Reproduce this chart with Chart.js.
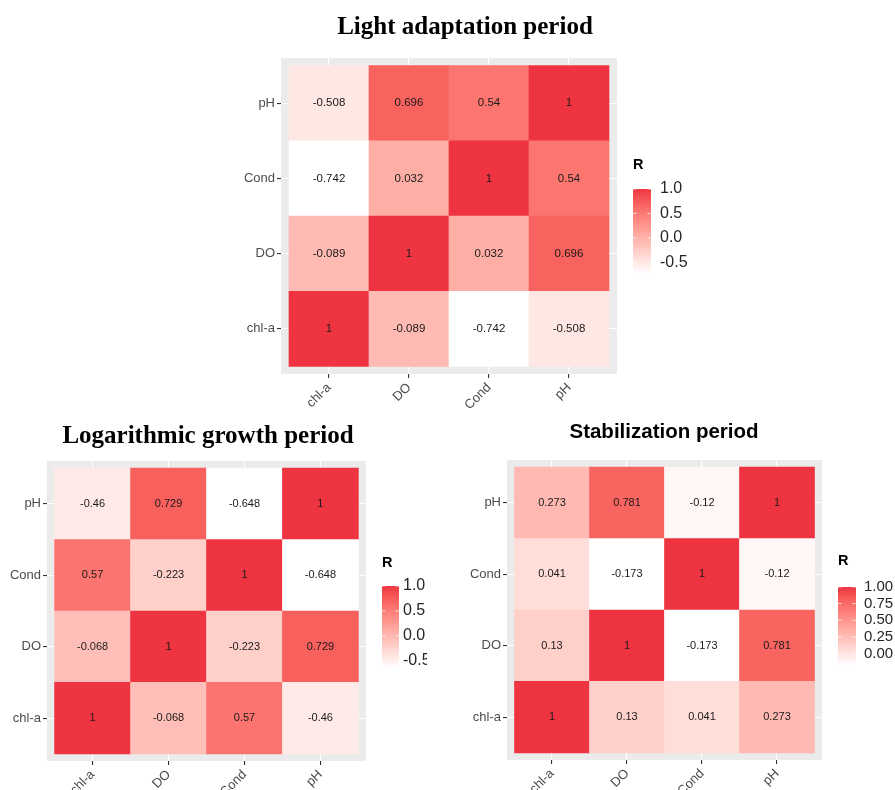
<!DOCTYPE html>
<html>
<head>
<meta charset="utf-8">
<script src="https://cdn.jsdelivr.net/npm/chart.js@4.4.1/dist/chart.umd.min.js"></script>
<style>
  html, body { margin: 0; padding: 0; background: #ffffff; width: 895px; height: 790px; overflow: hidden; }
  canvas { position: absolute; }
</style>
</head>
<body>
<canvas id="light" style="left:200px; top:0px;" width="530" height="410"></canvas>
<canvas id="log" style="left:0px; top:400px;" width="427" height="390"></canvas>
<canvas id="stab" style="left:460px; top:400px;" width="435" height="390"></canvas>
<script>
// Variables shown on both axes (bottom-to-top on y, left-to-right on x)
const variables = ['chl-a', 'DO', 'Cond', 'pH'];

// Pearson correlation matrices, rows/columns in the order of `variables`
const lightR = [
  [1, -0.089, -0.742, -0.508],
  [-0.089, 1, 0.032, 0.696],
  [-0.742, 0.032, 1, 0.54],
  [-0.508, 0.696, 0.54, 1]
];
const logR = [
  [1, -0.068, 0.57, -0.46],
  [-0.068, 1, -0.223, 0.729],
  [0.57, -0.223, 1, -0.648],
  [-0.46, 0.729, -0.648, 1]
];
const stabR = [
  [1, 0.13, 0.041, 0.273],
  [0.13, 1, -0.173, 0.781],
  [0.041, -0.173, 1, -0.12],
  [0.273, 0.781, -0.12, 1]
];

// Colour-bar tick values
const lightLegendTicks = [-0.5, 0, 0.5, 1];
const logLegendTicks = [-0.5, 0, 0.5, 1];
const stabLegendTicks = [0, 0.25, 0.5, 0.75, 1];

// ---- colour scale: white -> red, interpolated in CIE Lab ----
const LOW = [255, 255, 255];
const HIGH = [238, 52, 65];

function toLin(c) { c /= 255; return c <= 0.04045 ? c / 12.92 : Math.pow((c + 0.055) / 1.055, 2.4); }
function toSrgb(c) {
  const v = c <= 0.0031308 ? 12.92 * c : 1.055 * Math.pow(c, 1 / 2.4) - 0.055;
  return Math.round(Math.max(0, Math.min(1, v)) * 255);
}
function rgbToLab(rgb) {
  const R = toLin(rgb[0]), G = toLin(rgb[1]), B = toLin(rgb[2]);
  const X = (0.4124 * R + 0.3576 * G + 0.1805 * B) / 0.95047;
  const Y = (0.2126 * R + 0.7152 * G + 0.0722 * B);
  const Z = (0.0193 * R + 0.1192 * G + 0.9505 * B) / 1.08883;
  const f = t => t > 0.008856 ? Math.cbrt(t) : 7.787 * t + 16 / 116;
  return [116 * f(Y) - 16, 500 * (f(X) - f(Y)), 200 * (f(Y) - f(Z))];
}
function labToRgb(lab) {
  const fy = (lab[0] + 16) / 116, fx = fy + lab[1] / 500, fz = fy - lab[2] / 200;
  const inv = t => { const t3 = t * t * t; return t3 > 0.008856 ? t3 : (t - 16 / 116) / 7.787; };
  const X = inv(fx) * 0.95047, Y = inv(fy), Z = inv(fz) * 1.08883;
  const R = 3.2406 * X - 1.5372 * Y - 0.4986 * Z;
  const G = -0.9689 * X + 1.8758 * Y + 0.0415 * Z;
  const B = 0.0557 * X - 0.2040 * Y + 1.0570 * Z;
  return [toSrgb(R), toSrgb(G), toSrgb(B)];
}
const LAB_LOW = rgbToLab(LOW), LAB_HIGH = rgbToLab(HIGH);
function gradientColor(t) {
  t = Math.max(0, Math.min(1, t));
  const lab = LAB_LOW.map((v, i) => v + (LAB_HIGH[i] - v) * t);
  const c = labToRgb(lab);
  return `rgb(${c[0]},${c[1]},${c[2]})`;
}

const SANS = '"Liberation Sans", Arial, Helvetica, sans-serif';
const SERIF = '"Liberation Serif", "Times New Roman", serif';

function heatmap(id, R, legendTicks, legendDigits, look) {
  const flat = R.flat();
  const lo = Math.min(...flat), hi = Math.max(...flat);
  const fillFor = v => gradientColor((v - lo) / (hi - lo));
  const canvas = document.getElementById(id);
  const cw = canvas.width, ch = canvas.height;
  const p = look.panel;

  const centeredTicks = scale => { scale.ticks = variables.map((_, i) => ({ value: i })); };
  const axisGrid = { offset: false, color: '#ffffff', lineWidth: 1.1, tickColor: '#333333', tickLength: 4, drawTicks: true };
  const tickFont = { family: SANS, size: look.axisFont };

  const panelPlugin = {
    id: 'panelBg',
    beforeDraw(chart) {
      const a = chart.chartArea, ctx = chart.ctx;
      ctx.save();
      ctx.fillStyle = '#ebebeb';
      ctx.fillRect(a.left, a.top, a.right - a.left, a.bottom - a.top);
      ctx.restore();
    }
  };

  const cellText = {
    id: 'cellText',
    afterDatasetsDraw(chart) {
      const ctx = chart.ctx;
      ctx.save();
      ctx.font = `${look.cellFont}px ${SANS}`;
      ctx.fillStyle = '#1a1a1a';
      ctx.textAlign = 'center';
      ctx.textBaseline = 'middle';
      chart.data.datasets.forEach((ds, di) => {
        chart.getDatasetMeta(di).data.forEach((bar, j) => {
          ctx.fillText(String(ds.data[j].r), bar.x, (bar.y + bar.base) / 2);
        });
      });
      ctx.restore();
    }
  };

  const titleAndLegend = {
    id: 'titleAndLegend',
    afterDraw(chart) {
      const ctx = chart.ctx, lg = look.legend;
      ctx.save();
      // title
      ctx.fillStyle = '#000000';
      ctx.font = look.titleFont;
      ctx.textAlign = 'center';
      ctx.textBaseline = 'alphabetic';
      ctx.fillText(look.title, look.titleX, look.titleY);

      // legend title
      ctx.textAlign = 'left';
      ctx.font = `bold ${lg.titleSize}px ${SANS}`;
      ctx.fillText('R', lg.x, lg.titleY);

      // colour bar (value -> pixel along the bar)
      const top = lg.top, bottom = lg.bottom, w = lg.width;
      const yOf = v => bottom - (v - lo) / (hi - lo) * (bottom - top);
      const grad = ctx.createLinearGradient(0, bottom, 0, top);
      for (let k = 0; k <= 20; k++) grad.addColorStop(k / 20, gradientColor(k / 20));
      ctx.fillStyle = grad;
      ctx.fillRect(lg.x, top, w, bottom - top);

      ctx.strokeStyle = 'rgba(255,255,255,0.9)';
      ctx.lineWidth = 0.8;
      ctx.font = `${lg.labelSize}px ${SANS}`;
      ctx.fillStyle = '#262626';
      ctx.textBaseline = 'middle';
      legendTicks.forEach(v => {
        const y = yOf(v);
        ctx.beginPath();
        ctx.moveTo(lg.x, y); ctx.lineTo(lg.x + w / 5, y);
        ctx.moveTo(lg.x + w, y); ctx.lineTo(lg.x + w - w / 5, y);
        ctx.stroke();
        ctx.fillText(v.toFixed(legendDigits), lg.labelX, y);
      });
      ctx.restore();
    }
  };

  return new Chart(canvas, {
    type: 'bar',
    data: {
      datasets: variables.map((rowName, r) => ({
        label: rowName,
        data: variables.map((colName, c) => ({ x: c, y: [r - 0.5, r + 0.5], r: R[r][c] })),
        backgroundColor: variables.map((_, c) => fillFor(R[r][c])),
        borderWidth: 0,
        grouped: false,
        barPercentage: 1,
        categoryPercentage: 1
      }))
    },
    options: {
      responsive: false,
      animation: false,
      events: [],
      layout: {
        padding: { left: p.left - look.yAxisW, right: cw - p.right, top: p.top, bottom: ch - p.bottom - look.xAxisH }
      },
      plugins: { legend: { display: false }, tooltip: { enabled: false }, title: { display: false } },
      scales: {
        x: {
          type: 'linear', min: -0.6, max: 3.6, offset: false,
          afterBuildTicks: centeredTicks,
          afterFit: s => { s.height = look.xAxisH; },
          grid: axisGrid,
          border: { display: false },
          ticks: {
            callback: v => variables[v], color: '#4d4d4d', font: tickFont,
            minRotation: 45, maxRotation: 45, autoSkip: false, padding: 2
          }
        },
        y: {
          type: 'linear', min: -0.6, max: 3.6, offset: false,
          afterBuildTicks: centeredTicks,
          afterFit: s => { s.width = look.yAxisW; },
          grid: axisGrid,
          border: { display: false },
          ticks: { callback: v => variables[v], color: '#4d4d4d', font: tickFont, padding: 2, autoSkip: false }
        }
      }
    },
    plugins: [panelPlugin, cellText, titleAndLegend]
  });
}

heatmap('light', lightR, lightLegendTicks, 1, {
  title: 'Light adaptation period', titleFont: `bold 25px ${SERIF}`, titleX: 265, titleY: 34,
  panel: { left: 81, right: 417, top: 58, bottom: 374 },
  yAxisW: 61, xAxisH: 36, axisFont: 13, cellFont: 11.5,
  legend: { x: 433, titleY: 169, titleSize: 14.5, top: 189, bottom: 274, width: 18, labelX: 460, labelSize: 16 }
});

heatmap('log', logR, logLegendTicks, 1, {
  title: 'Logarithmic growth period', titleFont: `bold 25px ${SERIF}`, titleX: 208, titleY: 43,
  panel: { left: 47, right: 366, top: 61, bottom: 361 },
  yAxisW: 47, xAxisH: 29, axisFont: 13, cellFont: 11,
  legend: { x: 382, titleY: 167, titleSize: 14.5, top: 186, bottom: 268, width: 17, labelX: 403, labelSize: 16 }
});

heatmap('stab', stabR, stabLegendTicks, 2, {
  title: 'Stabilization period', titleFont: `bold 20.5px ${SANS}`, titleX: 204, titleY: 38,
  panel: { left: 47, right: 362, top: 60, bottom: 360 },
  yAxisW: 47, xAxisH: 30, axisFont: 13, cellFont: 11,
  legend: { x: 378, titleY: 165, titleSize: 14.5, top: 187, bottom: 265, width: 18, labelX: 404, labelSize: 15 }
});
</script>
</body>
</html>
